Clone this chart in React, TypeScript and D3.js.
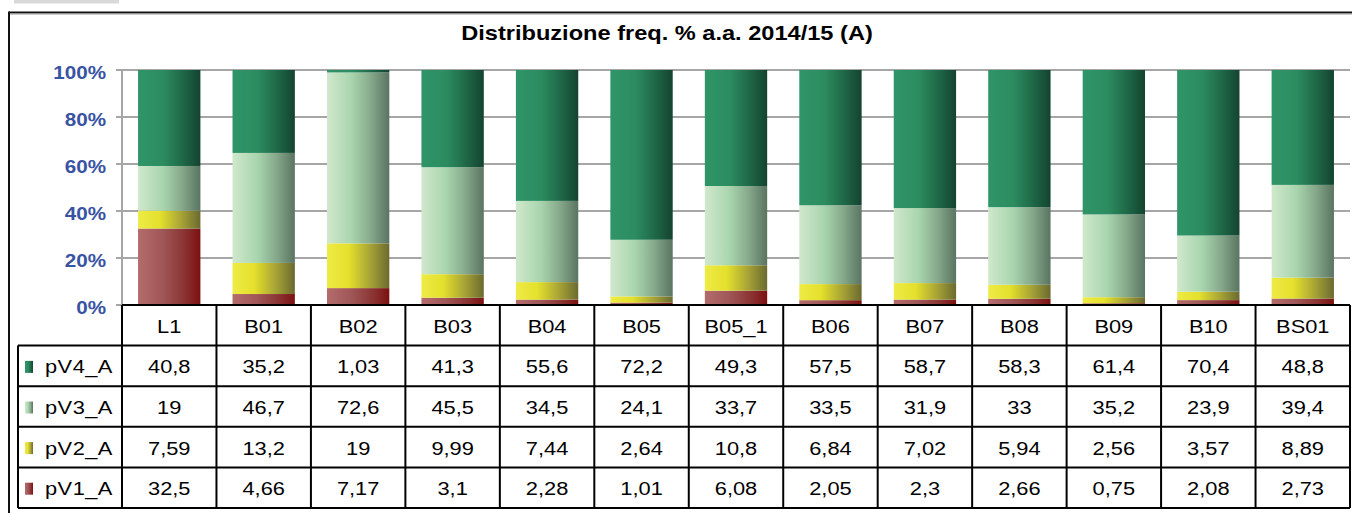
import React from 'react';
import * as d3 from 'd3';

// chart data
const categories = ['L1', 'B01', 'B02', 'B03', 'B04', 'B05', 'B05_1', 'B06', 'B07', 'B08', 'B09', 'B10', 'BS01'];
const pV4_A = [40.8, 35.2, 1.03, 41.3, 55.6, 72.2, 49.3, 57.5, 58.7, 58.3, 61.4, 70.4, 48.8];
const pV3_A = [19, 46.7, 72.6, 45.5, 34.5, 24.1, 33.7, 33.5, 31.9, 33, 35.2, 23.9, 39.4];
const pV2_A = [7.59, 13.2, 19, 9.99, 7.44, 2.64, 10.8, 6.84, 7.02, 5.94, 2.56, 3.57, 8.89];
const pV1_A = [32.5, 4.66, 7.17, 3.1, 2.28, 1.01, 6.08, 2.05, 2.3, 2.66, 0.75, 2.08, 2.73];
const seriesNames = ['pV1_A', 'pV2_A', 'pV3_A', 'pV4_A'];
const yTicks = [0, 0.2, 0.4, 0.6, 0.8, 1];
const title = 'Distribuzione freq. % a.a. 2014/15 (A)';

const gradients: Record<string, [number, string][]> = {
  pV4_A: [[0, '#2f9568'], [0.4, '#2c8c60'], [0.7, '#1f6a48'], [1, '#144330']],
  pV3_A: [[0, '#d0e8cc'], [0.4, '#a8d5ad'], [0.7, '#86a98b'], [1, '#5a7461']],
  pV2_A: [[0, '#eeeb46'], [0.35, '#e4e02c'], [0.7, '#a6a236'], [1, '#6b6a30']],
  pV1_A: [[0, '#b36c6c'], [0.4, '#a05656'], [0.75, '#8a3232'], [1, '#7c1010']],
};

const W = 1352;
const H = 513;
const plotLeft = 122;
const plotRight = 1350;
const yTop = 70;
const yBottom = 305;
const rowH = 40.6;
const legendLeft = 18;
const SX = 1.18; // source text is stretched horizontally
const FONT = "Arial, 'Liberation Sans', sans-serif";

const fmt = (v: number) => String(v).replace('.', ',');

function T({ x, y, children, anchor = 'middle', size = 18.5, weight = 'normal', fill = '#000', ls = 0 }: any) {
  return (
    <text
      transform={`translate(${x},${y}) scale(${SX},1)`}
      textAnchor={anchor}
      dominantBaseline="central"
      fontFamily={FONT}
      fontSize={size}
      fontWeight={weight}
      fill={fill}
      letterSpacing={ls}
    >
      {children}
    </text>
  );
}

export default function App() {
  const rows = categories.map((c, i) => ({
    cat: c,
    pV1_A: pV1_A[i],
    pV2_A: pV2_A[i],
    pV3_A: pV3_A[i],
    pV4_A: pV4_A[i],
  }));
  const values: Record<string, number[]> = { pV1_A, pV2_A, pV3_A, pV4_A };

  const stacked = d3.stack<any>().keys(seriesNames).offset(d3.stackOffsetExpand)(rows);

  const col = d3.scaleBand<string>().domain(categories).range([plotLeft, plotRight]).padding(0);
  const barW = col.bandwidth() * 0.66;
  const y = d3.scaleLinear().domain([0, 1]).range([yBottom, yTop]);

  const tableRows = [...seriesNames].reverse(); // pV4 on top
  const tableBottom = yBottom + rowH * (tableRows.length + 1);

  return (
    <svg width={W} height={H} style={{ position: 'absolute', left: 0, top: 0 }}>
      <defs>
        {seriesNames.map(s => (
          <linearGradient key={s} id={`g-${s}`} x1="0" x2="1" y1="0" y2="0">
            {gradients[s].map(([o, c]) => <stop key={o} offset={o} stopColor={c} />)}
          </linearGradient>
        ))}
      </defs>

      <rect x={0} y={0} width={W} height={H} fill="#fff" />
      <rect x={14} y={0} width={105} height={3.5} fill="#d9d9d9" />

      {/* outer frame, cut off at right and bottom */}
      <line x1={9} x2={W} y1={12.5} y2={12.5} stroke="#111" strokeWidth={2} />
      <line x1={10} x2={W} y1={14} y2={14} stroke="#999" strokeWidth={1} />
      <line x1={9} x2={9} y1={11.5} y2={H} stroke="#111" strokeWidth={2} />

      <T x={667} y={33} size={20} weight="bold">{title}</T>

      {/* grid */}
      {yTicks.map(t => (
        <g key={t}>
          <line x1={plotLeft - 6} x2={plotRight} y1={y(t)} y2={y(t)} stroke="#a6a6a6" strokeWidth={2} />
          <T x={106} y={y(t) + 3} anchor="end" size={17.5} weight="bold" fill="#3953a4">
            {d3.format('.0%')(t)}
          </T>
        </g>
      ))}
      <line x1={plotLeft} x2={plotLeft} y1={yTop} y2={yBottom} stroke="#a6a6a6" strokeWidth={2} />

      {/* bars */}
      {stacked.map(layer => (
        <g key={layer.key} fill={`url(#g-${layer.key})`}>
          {layer.map((d, i) => (
            <rect
              key={i}
              x={col(categories[i])! + (col.bandwidth() - barW) / 2}
              y={y(d[1])}
              width={barW}
              height={Math.max(0, y(d[0]) - y(d[1]))}
            />
          ))}
        </g>
      ))}

      {/* data table */}
      <g stroke="#000" strokeWidth={2}>
        <line x1={plotLeft} x2={plotRight} y1={yBottom} y2={yBottom} />
        {tableRows.map((s, r) => (
          <line key={s} x1={legendLeft} x2={plotRight} y1={yBottom + rowH * (r + 1)} y2={yBottom + rowH * (r + 1)} />
        ))}
        <line x1={legendLeft} x2={plotRight} y1={tableBottom} y2={tableBottom} />
        <line x1={legendLeft} x2={legendLeft} y1={yBottom + rowH} y2={tableBottom} />
        {categories.map(c => (
          <line key={c} x1={col(c)!} x2={col(c)!} y1={yBottom} y2={tableBottom} />
        ))}
        <line x1={plotRight} x2={plotRight} y1={yBottom} y2={tableBottom} />
      </g>

      {categories.map(c => (
        <T key={c} x={col(c)! + col.bandwidth() / 2} y={yBottom + rowH / 2 + 1}>{c}</T>
      ))}

      {tableRows.map((s, r) => {
        const cy = yBottom + rowH * (r + 1.5) + 1;
        return (
          <g key={s}>
            <rect x={25} y={cy - 6} width={8} height={12} fill={`url(#g-${s})`} />
            <T x={45} y={cy} anchor="start" ls={0.4}>{s}</T>
            {values[s].map((v, i) => (
              <T key={i} x={col(categories[i])! + col.bandwidth() / 2} y={cy}>{fmt(v)}</T>
            ))}
          </g>
        );
      })}
    </svg>
  );
}
